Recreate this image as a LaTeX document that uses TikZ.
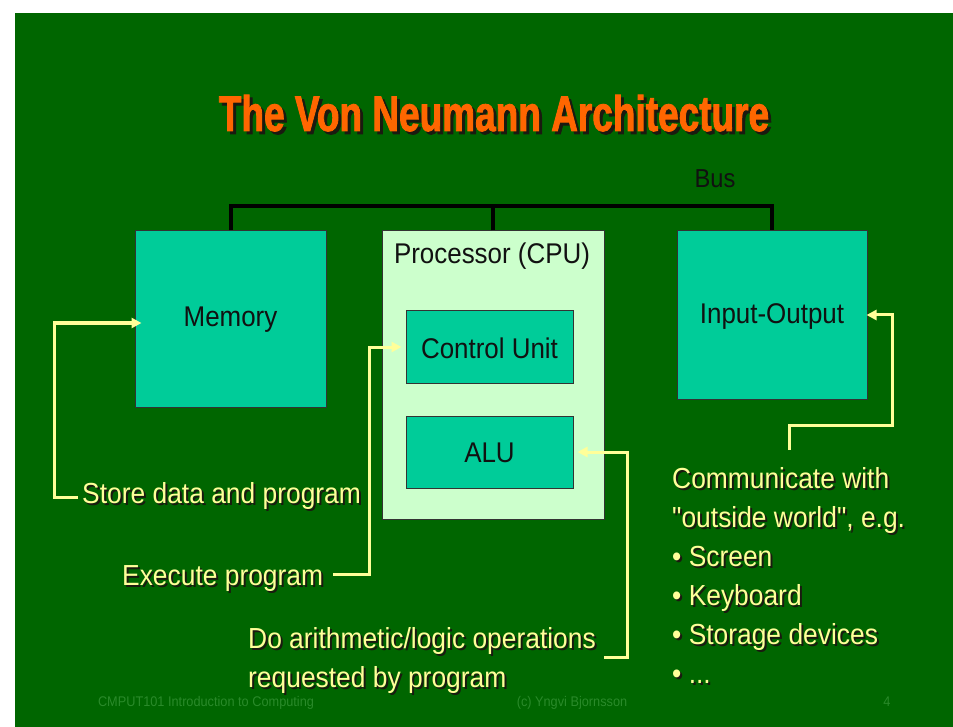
\documentclass[tikz,border=0pt]{standalone}
\usepackage{fontspec}
\usetikzlibrary{arrows.meta,calc}
\newfontfamily\bodyfont[FakeStretch=0.91]{Liberation Sans}
\newfontfamily\titlefont[FakeStretch=0.74,BoldFeatures={FakeBold=1.6}]{Liberation Sans}
\definecolor{slidegreen}{HTML}{006600}
\definecolor{footgreen}{HTML}{2A8A2A}
\definecolor{tealbox}{HTML}{00CC99}
\definecolor{cpubox}{HTML}{CCFFCC}
\definecolor{boxline}{HTML}{333333}
\definecolor{noteyellow}{HTML}{FFFF99}
\definecolor{lineyellow}{HTML}{FFFF99}
\definecolor{titleorange}{HTML}{FF6600}
\definecolor{txtshadow}{HTML}{1A1A10}
\definecolor{labeltext}{HTML}{111111}
\newcommand\shadowed[2][2pt]{\rlap{\kern#1\raisebox{-#1}{\color{txtshadow}#2}}#2}
\begin{document}
\begin{tikzpicture}[x=1pt,y=-1pt,
  box/.style={draw=boxline, line width=1pt, fill=tealbox, inner sep=0pt},
  lbl/.style={font=\bodyfont\fontsize{28.5}{32}\selectfont, text=labeltext, inner sep=0pt},
  note/.style={font=\bodyfont\fontsize{29}{34}\selectfont, text=noteyellow, anchor=base west, inner sep=0pt},
  conn/.style={draw=lineyellow, line width=3pt, line join=miter},
  arr/.style={conn, -{Triangle[length=10pt,width=10pt]}},
  bus/.style={draw=black, line width=4pt, line join=miter},
  foot/.style={font=\bodyfont\fontsize{14}{16}\selectfont, text=footgreen, anchor=base, inner sep=0pt}
]
\useasboundingbox (0,0) rectangle (953,727);
\fill[white] (0,0) rectangle (953,727);
\fill[slidegreen] (15,13) rectangle (953,727);

% title
\node[anchor=base, inner sep=0pt, text=titleorange,
      font=\titlefont\bfseries\fontsize{50}{55}\selectfont] (title) at (494,131)
      {\shadowed[3pt]{The Von Neumann Architecture}};

% boxes
\node[box, minimum width=191pt, minimum height=176pt] (mem) at (230.5,319) {};
\node[lbl] (memlbl) at (230.5,320) {Memory};
\node[box, fill=cpubox, minimum width=222pt, minimum height=288pt] (cpu) at (493,375) {};
\node[lbl] (cpulbl) at (492,256) {Processor (CPU)};
\node[box, minimum width=167pt, minimum height=72pt] (cu) at (489.5,347) {};
\node[lbl] (culbl) at (489.5,348) {Control Unit};
\node[box, minimum width=167pt, minimum height=72pt] (alu) at (489.5,452) {};
\node[lbl] (alulbl) at (489.5,453) {ALU};
\node[box, minimum width=190pt, minimum height=168pt] (io) at (772,315) {};
\node[lbl] (iolbl) at (772,317) {Input-Output};

% bus
\draw[bus] (mem.north) -- ++(0,-24) -| (io.north);
\draw[bus] (cpu.north) -- ++(0,-24);
\node[lbl, font=\bodyfont\fontsize{26}{30}\selectfont] (buslbl) at (715,179) {Bus};

% notes
\node[note] (store) at (82,503) {\shadowed{Store data and program}};
\node[note] (exec) at (122,585) {\shadowed{Execute program}};
\node[note] (arith1) at (248,648) {\shadowed{Do arithmetic/logic operations}};
\node[note] (arith2) at (248,687) {\shadowed{requested by program}};
\node[note] (comm1) at (672,488) {\shadowed{Communicate with}};
\node[note] (comm2) at (672,527) {\shadowed{"outside world", e.g.}};
\node[note] (comm3) at (672,566) {\shadowed{\textbullet{} Screen}};
\node[note] (comm4) at (672,605) {\shadowed{\textbullet{} Keyboard}};
\node[note] (comm5) at (672,644) {\shadowed{\textbullet{} Storage devices}};
\node[note] (comm6) at (672,683) {\shadowed{\textbullet{} ...}};

% connectors
\coordinate (m1) at (54,497);
\draw[arr, shorten >=-7pt] ($(store.base west)+(-4,-6)$) -- (m1) |- ([yshift=-4pt]mem.west);
\coordinate (e1) at (369,574);
\draw[arr, shorten >=4pt] ($(exec.base east)+(10,-11)$) -- (e1) |- (cu.west);
\coordinate (a1) at (627,657);
\draw[arr, shorten >=4pt] ($(arith1.base east)+(8,9)$) -- (a1) |- (alu.east);
\coordinate (i0) at (789,450);
\coordinate (i1) at (892,425);
\draw[arr, shorten >=-1pt] (i0) |- (i1) |- (io.east);

% footer
\node[foot] (f1) at (206,706) {CMPUT101 Introduction to Computing};
\node[foot] (f2) at (572,706) {(c) Yngvi Bjornsson};
\node[foot] (f3) at (887,706) {4};
\end{tikzpicture}
\end{document}
